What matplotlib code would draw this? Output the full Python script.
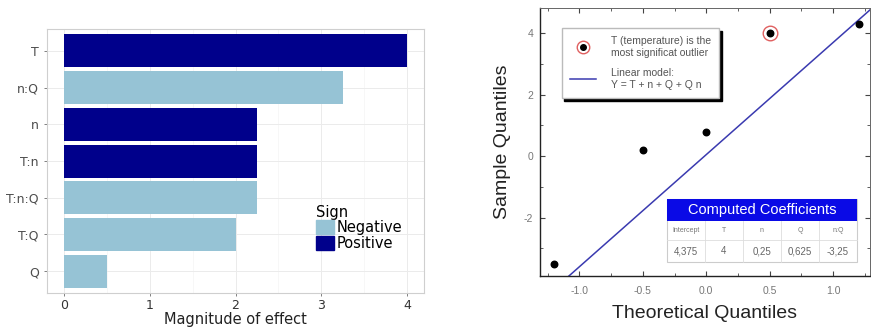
import matplotlib
matplotlib.use("Agg")
import matplotlib.pyplot as plt
from matplotlib.lines import Line2D
from matplotlib.legend_handler import HandlerTuple
from matplotlib.patches import Rectangle
from matplotlib.ticker import MultipleLocator, FormatStrFormatter
import numpy as np

# ---------------- data ----------------
terms = ["T", "n:Q", "n", "T:n", "T:n:Q", "T:Q", "Q"]
magnitude = [4.0, 3.25, 2.25, 2.25, 2.25, 2.0, 0.5]
sign = ["Positive", "Negative", "Positive", "Positive", "Negative", "Negative", "Negative"]
sign_colors = {"Negative": "#96c3d5", "Positive": "#00008b"}

theo_q = [-1.2, -0.5, 0.0, 0.5, 1.2]
sample_q = [-3.5, 0.2, 0.8, 4.0, 4.3]
outlier_idx = 3
line_slope = 3.65
line_intercept = 0.05

coef_names = ["Intercept", "T", "n", "Q", "n:Q"]
coef_values = ["4,375", "4", "0,25", "0,625", "-3,25"]

W, H = 871, 329
fig = plt.figure(figsize=(W / 100, H / 100), dpi=100)

def ax_rect(x0, y0, x1, y1):
    return [x0 / W, 1 - y1 / H, (x1 - x0) / W, (y1 - y0) / H]

# ---------------- left: bar chart ----------------
ax1 = fig.add_axes(ax_rect(47, 29, 424, 293))
ypos = np.arange(len(terms))[::-1]
for y, m, s in zip(ypos, magnitude, sign):
    ax1.barh(y, m, height=0.9, color=sign_colors[s], edgecolor="none", zorder=3)
ax1.set_yticks(ypos)
ax1.set_yticklabels(terms, fontsize=9, color="#333333", family="DejaVu Sans")
ax1.set_xlim(-0.2, 4.2)
ax1.set_ylim(-0.6, len(terms) - 0.4)
ax1.set_xticks([0, 1, 2, 3, 4])
ax1.set_xticks([0.5, 1.5, 2.5, 3.5], minor=True)
ax1.tick_params(axis="x", labelsize=9, colors="#4d4d4d", length=2.5, width=0.5, pad=1.5)
ax1.tick_params(axis="x", which="minor", length=0)
ax1.tick_params(axis="y", length=2.5, width=0.5, colors="#4d4d4d")
for lab in ax1.get_xticklabels():
    lab.set_color("#333333")
ax1.grid(True, which="major", color="#ebebeb", lw=0.7, zorder=0)
ax1.grid(True, which="minor", axis="x", color="#f4f4f4", lw=0.5, zorder=0)
for sp in ax1.spines.values():
    sp.set_color("#cfcfcf")
    sp.set_linewidth(0.8)
ax1.set_xlabel("Magnitude of effect", fontsize=10.5, color="#222222", labelpad=0)

handles = [Rectangle((0, 0), 1, 1, color=sign_colors[k]) for k in ["Negative", "Positive"]]
leg1 = ax1.legend(handles, ["Negative", "Positive"], title="Sign", loc="lower right",
                  bbox_to_anchor=(0.97, 0.12), frameon=False, fontsize=10.5,
                  title_fontsize=10.5, handlelength=1.2, handleheight=1.1,
                  handletextpad=0.2, labelspacing=0.05, borderpad=0.2)
leg1._legend_box.align = "left"

# ---------------- right: QQ plot ----------------
ax2 = fig.add_axes(ax_rect(540, 8, 870, 276))
ax2.set_xlim(-1.31, 1.29)
ax2.set_ylim(-3.9, 4.82)
xs = np.array(ax2.get_xlim())
ax2.plot(xs, line_slope * xs + line_intercept, color="#3a3ab0", lw=1.1, zorder=2)
ax2.scatter(theo_q[outlier_idx], sample_q[outlier_idx], s=110, facecolor="white",
            edgecolor="#e06060", linewidth=1.0, zorder=3)
ax2.scatter(theo_q, sample_q, s=22, color="black", zorder=4)

ax2.xaxis.set_major_locator(MultipleLocator(0.5))
ax2.xaxis.set_minor_locator(MultipleLocator(0.25))
ax2.yaxis.set_major_locator(MultipleLocator(2))
ax2.yaxis.set_minor_locator(MultipleLocator(1))
ax2.xaxis.set_major_formatter(FormatStrFormatter("%.1f"))
ax2.yaxis.set_major_formatter(FormatStrFormatter("%d"))
ax2.tick_params(which="both", direction="in", top=True, right=True, colors="#444444",
                labelsize=7.5, labelcolor="#777777")
ax2.tick_params(which="major", length=3.5, width=0.8)
ax2.tick_params(which="minor", length=2, width=0.6)
ax2.tick_params(axis="x", pad=7)
ax2.tick_params(axis="y", pad=5)
for lab in ax2.get_xticklabels() + ax2.get_yticklabels():
    lab.set_family("Liberation Sans")
for name, sp in ax2.spines.items():
    sp.set_color("#222222" if name in ("left", "bottom") else "#666666")
    sp.set_linewidth(1.0 if name in ("left", "bottom") else 0.7)
ax2.set_xlabel("Theoretical Quantiles", fontsize=14, family="Liberation Sans",
               color="#222222", labelpad=7)
ax2.set_ylabel("Sample Quantiles", fontsize=14, family="Liberation Sans",
               color="#222222", labelpad=9)

h_out = (Line2D([], [], marker="o", ls="none", ms=9, mfc="white", mec="#e06060", mew=1.0),
         Line2D([], [], marker="o", ls="none", ms=4, color="black"))
h_line = Line2D([], [], color="#3a3ab0", lw=1.1)
leg2 = ax2.legend([h_out, h_line],
                  ["T (temperature) is the\nmost significat outlier",
                   "Linear model:\nY = T + n + Q + Q n"],
                  handler_map={tuple: HandlerTuple(ndivide=1, pad=0)},
                  loc="upper left", bbox_to_anchor=(0.05, 0.945),
                  prop={"family": "Liberation Sans", "size": 7.5},
                  frameon=True, fancybox=False, edgecolor="#bbbbbb", framealpha=1,
                  shadow={"color": "black", "alpha": 1}, borderpad=0.8,
                  labelspacing=1.0, handlelength=2.5, handletextpad=1.4)
for t in leg2.get_texts():
    t.set_color("#555555")

# coefficient table (axes fraction coordinates)
tx0, tx1 = 0.385, 0.96
ty_top, ty_head, ty_mid, ty_bot = 0.287, 0.205, 0.134, 0.052
tr = ax2.transAxes
ax2.add_patch(Rectangle((tx0, ty_bot), tx1 - tx0, ty_top - ty_bot, transform=tr,
                        facecolor="white", edgecolor="#cccccc", lw=0.8, zorder=5))
ax2.add_patch(Rectangle((tx0, ty_head), tx1 - tx0, ty_top - ty_head, transform=tr,
                        facecolor="#0a0ae6", edgecolor="none", zorder=6))
ax2.text((tx0 + tx1) / 2, (ty_head + ty_top) / 2, "Computed Coefficients", transform=tr,
         ha="center", va="center", color="white", fontsize=10.5,
         family="Liberation Sans", zorder=7)
ncol = len(coef_names)
cw = (tx1 - tx0) / ncol
for i, (nm, vl) in enumerate(zip(coef_names, coef_values)):
    cx = tx0 + (i + 0.5) * cw
    ax2.text(cx, (ty_mid + ty_head) / 2, nm, transform=tr, ha="center", va="center",
             fontsize=5, color="#777777", family="Liberation Sans", zorder=7)
    ax2.text(cx, (ty_bot + ty_mid) / 2, vl, transform=tr, ha="center", va="center",
             fontsize=7, color="#666666", family="Liberation Sans", zorder=7)
    if i > 0:
        ax2.plot([tx0 + i * cw] * 2, [ty_bot, ty_head], transform=tr, color="#dddddd",
                 lw=0.6, zorder=6)
ax2.plot([tx0, tx1], [ty_mid, ty_mid], transform=tr, color="#dddddd", lw=0.6, zorder=6)

fig.savefig("out.png", dpi=100)
